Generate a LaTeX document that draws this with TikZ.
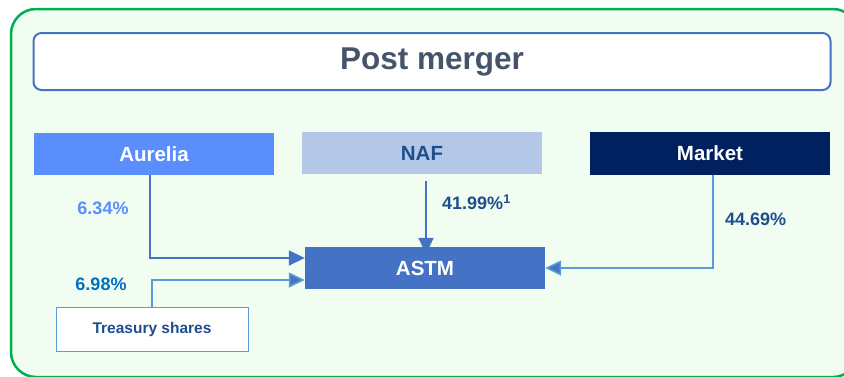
\documentclass[tikz,border=0pt]{standalone}
\usepackage{fontspec}
\setmainfont{Liberation Sans}
\usetikzlibrary{arrows.meta}
\definecolor{outergreen}{HTML}{00B050}
\definecolor{bgreen}{HTML}{F2FDF2}
\definecolor{mblue}{HTML}{4472C4}
\definecolor{aurblue}{HTML}{5A8EFC}
\definecolor{nafblue}{HTML}{B4C7E7}
\definecolor{navy}{HTML}{002060}
\definecolor{titlegray}{HTML}{44546A}
\definecolor{dkblue}{HTML}{1F4E8C}
\definecolor{midblue}{HTML}{0070C0}
\definecolor{lineblue}{HTML}{5B9BD5}
\tikzset{
  ent/.style={rectangle, minimum width=240pt, minimum height=42pt, inner sep=0pt, font=\bfseries\fontsize{20.5}{24}\selectfont},
  conn/.style={draw=mblue, line width=1.6pt, -{Triangle[length=16pt 0,width=15pt 0,fill=mblue]}},
  pct/.style={font=\bfseries\fontsize{18}{21}\selectfont, inner sep=0pt}
}
\begin{document}
\begin{tikzpicture}[x=1pt,y=-1pt]
\useasboundingbox (0,0) rectangle (844,376);
\fill[white] (0,0) rectangle (844,376);
\begin{scope}
\clip (0,0) rectangle (844,376);
\draw[outergreen, line width=2.5pt, fill=bgreen, rounded corners=25pt] (11,9) rectangle (858,377);
\end{scope}
\node[draw=mblue, line width=2pt, fill=white, rounded corners=8pt, minimum width=797pt, minimum height=57pt, inner sep=0pt, text=titlegray, font=\bfseries\fontsize{31.5}{36}\selectfont] (title) at (432,61.5) {Post merger};
\node[ent, fill=aurblue, text=white] (aurelia) at (154,154) {Aurelia};
\node[ent, fill=nafblue, text=dkblue] (naf) at (422,153) {NAF};
\node[ent, fill=navy, text=white, minimum height=43pt] (market) at (710,153.5) {Market};
\node[ent, fill=mblue, text=white] (astm) at (425,268) {ASTM};
\node[draw=lineblue, line width=1pt, fill=white, minimum width=192pt, minimum height=44pt, inner sep=0pt, text=dkblue, font=\bfseries\fontsize{15.5}{18}\selectfont] (treasury) at (152,329) {Treasury shares};
\draw[conn] ([xshift=-4pt]aurelia.south) |- ([yshift=10pt]astm.west);
\draw[conn, draw=lineblue] ([xshift=0pt]treasury.north) |- ([yshift=-12pt]astm.west);
\draw[conn, line width=2.2pt] ([xshift=4pt,yshift=-7pt]naf.south) -- ([xshift=4pt,yshift=-7pt]naf.south |- astm.north);
\draw[conn, draw=lineblue] ([xshift=3pt]market.south) |- (astm.east);
\node[pct, text=aurblue] (p1) at (103,208) {6.34\%};
\node[pct, text=midblue] (p2) at (101,284) {6.98\%};
\node[pct, text=dkblue, anchor=west] (p3) at (442,202) {41.99\%\textsuperscript{1}};
\node[pct, text=dkblue, anchor=west] (p4) at (725,219) {44.69\%};
\end{tikzpicture}
\end{document}
